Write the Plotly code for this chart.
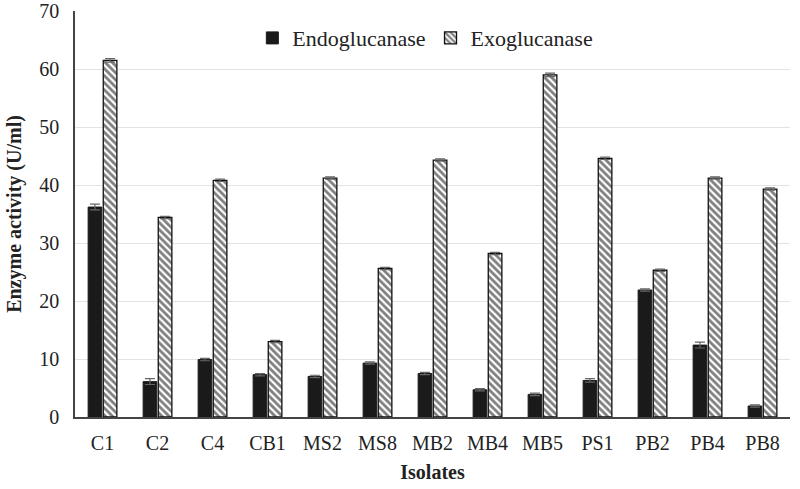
import plotly.graph_objects as go

isolates = ["C1", "C2", "C4", "CB1", "MS2", "MS8", "MB2", "MB4", "MB5", "PS1", "PB2", "PB4", "PB8"]
endo = [36.2, 6.1, 9.9, 7.3, 7.0, 9.3, 7.5, 4.7, 3.9, 6.3, 21.9, 12.4, 1.9]
endo_err = [0.5, 0.5, 0.2, 0.2, 0.2, 0.2, 0.2, 0.2, 0.2, 0.3, 0.2, 0.5, 0.2]
exo = [61.5, 34.4, 40.8, 13.0, 41.2, 25.6, 44.3, 28.2, 59.0, 44.6, 25.3, 41.2, 39.3]
exo_err = [0.3, 0.2, 0.2, 0.2, 0.2, 0.2, 0.2, 0.2, 0.3, 0.2, 0.2, 0.2, 0.2]

font = "Liberation Serif"

fig = go.Figure()
fig.add_trace(go.Bar(
    x=isolates, y=endo, name="Endoglucanase",
    marker=dict(color="#1a1a1a", line=dict(color="#1a1a1a", width=1)),
    error_y=dict(type="data", array=endo_err, color="#666666", thickness=1.2, width=5),
))
fig.add_trace(go.Bar(
    x=isolates, y=exo, name="Exoglucanase",
    marker=dict(color="white", line=dict(color="#111111", width=1.3),
                pattern=dict(shape="\\", fgcolor="#000000", bgcolor="white", size=5, solidity=0.55)),
    error_y=dict(type="data", array=exo_err, color="#666666", thickness=1.2, width=5),
))

fig.update_layout(
    width=800, height=489,
    paper_bgcolor="white", plot_bgcolor="white",
    margin=dict(l=75, r=10, t=11, b=72),
    barmode="group", bargap=0.45, bargroupgap=0.1,
    font=dict(family=font, size=20, color="#222222"),
    legend=dict(orientation="h", x=0.49, y=0.985, xanchor="center", yanchor="top",
                font=dict(family=font, size=22), bgcolor="rgba(0,0,0,0)",
                itemwidth=30, tracegroupgap=0),
    xaxis=dict(
        title=dict(text="<b>Isolates</b>", font=dict(family=font, size=20), standoff=12),
        automargin=False,
        showline=True, linecolor="#444444", linewidth=1.5,
        tickfont=dict(family=font, size=20), ticks="", ticklabelstandoff=7,
    ),
    yaxis=dict(
        title=dict(text="<b>Enzyme activity (U/ml)</b>", font=dict(family=font, size=20), standoff=12),
        automargin=False,
        range=[0, 70], dtick=10, showgrid=True, gridcolor="#e3e3e3", gridwidth=1,
        showline=True, linecolor="#444444", linewidth=1.5, zeroline=False,
        tickfont=dict(family=font, size=20), ticks="", ticklabelstandoff=10,
        ticklabeloverflow="allow",
    ),
)

# drop the default 8px body margin so the figure sits at the window corner
fig.write_html("out.html", config={"displayModeBar": False},
               post_script="document.body.style.margin='0';")
